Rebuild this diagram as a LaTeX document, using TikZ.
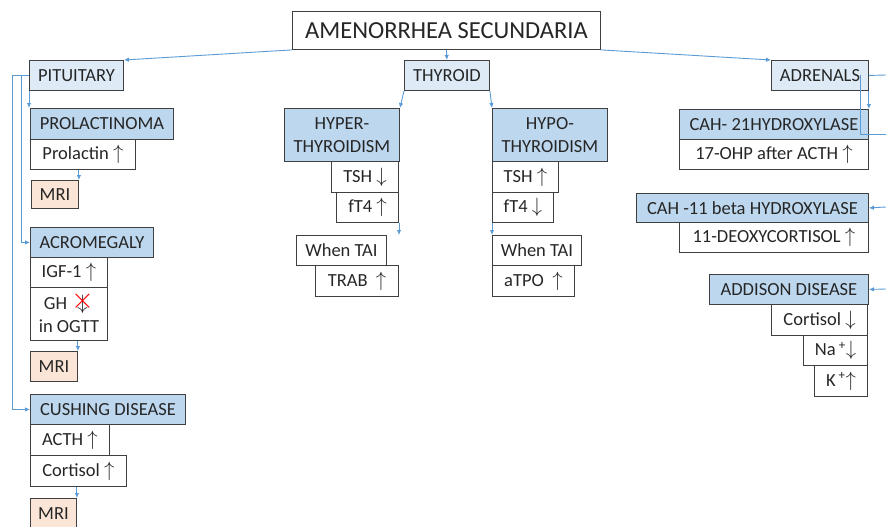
\documentclass[tikz,border=0pt]{standalone}
\usepackage{fontspec}
\setmainfont{Carlito}
\usetikzlibrary{arrows.meta}
\definecolor{paleblue}{HTML}{DEEBF7}
\definecolor{midblue}{HTML}{BDD7EE}
\definecolor{peach}{HTML}{FBE5D6}
\definecolor{linkblue}{HTML}{5B9BD5}
\definecolor{edgegray}{HTML}{404040}
\newcommand{\upar}{\scalebox{1.2}{$\uparrow$}}
\newcommand{\dnar}{\scalebox{1.2}{$\downarrow$}}
\begin{document}
\begin{tikzpicture}[x=1pt, y=-1pt,
  box/.style={draw=edgegray, line width=0.9pt, inner sep=2pt, text=black!85,
    font=\fontsize{18.5}{23}\selectfont, anchor=north west},
  sz/.style 2 args={minimum width=#1pt, minimum height=#2pt},
  organ/.style={box, fill=paleblue},
  disease/.style={box, fill=midblue},
  imaging/.style={box, fill=peach},
  link/.style={linkblue, line width=0.9pt, -{Latex[length=5pt,width=4.5pt]}},
  wire/.style={linkblue, line width=0.9pt}]
\useasboundingbox (0,0) rectangle (886,527);
\node[box, sz={308}{38}, font=\fontsize{24.5}{28}\selectfont] (title) at (292,11)
  {AMENORRHEA SECUNDARIA};
\node[organ, sz={94}{30}] (pit) at (29,60) {PITUITARY};
\node[organ, sz={85}{30}] (thy) at (404,60) {THYROID};
\node[organ, sz={97}{30}] (adr) at (771,60) {ADRENALS};
% pituitary
\node[disease, sz={143}{31}] (prl) at (30,108) {PROLACTINOMA};
\node[box, sz={105}{30}] (prlval) at (30,139) {Prolactin \upar};
\node[imaging, sz={47}{28}] (mria) at (31,180) {MRI};
\node[disease, sz={123}{30}] (acr) at (30,227) {ACROMEGALY};
\node[box, sz={77}{30}] (igf) at (30,257) {IGF-1 \upar};
\node[box, sz={77}{53}, align=center] (gh) at (30,287)
  {GH \ooalign{\hfil\dnar\hfil\cr\hfil\raisebox{1pt}{\color{red}\scalebox{1.7}{$\times$}}\hfil\cr}\\in OGTT};
\node[imaging, sz={47}{30}] (mrib) at (30,351) {MRI};
\node[disease, sz={155}{30}] (cus) at (30,394) {CUSHING DISEASE};
\node[box, sz={79}{31}] (acth) at (30,424) {ACTH \upar};
\node[box, sz={96}{31}] (corta) at (30,455) {Cortisol \upar};
\node[imaging, sz={46}{30}] (mric) at (30,498) {MRI};
% thyroid
\node[disease, sz={115}{53}, align=center] (hyper) at (284,108) {HYPER-\\THYROIDISM};
\node[box, sz={67}{31}, anchor=north east] (tsha) at (399,161) {TSH \dnar};
\node[box, sz={62}{30}, anchor=north east] (fta) at (399,192) {fT4 \upar};
\node[box, sz={90}{30}] (taia) at (296,235) {When TAI};
\node[box, sz={83}{31}, anchor=north east] (trab) at (399,265) {TRAB \ \upar};
\node[disease, sz={115}{53}, align=center] (hypo) at (492,108) {HYPO-\\THYROIDISM};
\node[box, sz={66}{31}] (tshb) at (492,161) {TSH \upar};
\node[box, sz={61}{30}] (ftb) at (492,192) {fT4 \dnar};
\node[box, sz={89}{30}] (taib) at (492,235) {When TAI};
\node[box, sz={82}{31}] (atpo) at (492,265) {aTPO \ \upar};
% adrenals
\node[disease, sz={189}{30}] (cah21) at (679,109) {CAH- 21HYDROXYLASE};
\node[box, sz={189}{30}] (ohp) at (679,139) {17-OHP after ACTH \upar};
\node[disease, sz={232}{29}] (cah11) at (636,193) {CAH -11 beta HYDROXYLASE};
\node[box, sz={189}{30}] (doc) at (679,222) {11-DEOXYCORTISOL \upar};
\node[disease, sz={159}{30}] (add) at (709,274) {ADDISON DISEASE};
\node[box, sz={96}{31}, anchor=north east] (cortb) at (868,304) {Cortisol \dnar};
\node[box, sz={64}{30}, anchor=north east] (na) at (868,335) {Na\,\textsuperscript{+}\dnar};
\node[box, sz={53}{31}, anchor=north east] (k) at (868,365) {K\,\textsuperscript{+}\upar};
\coordinate (adrout) at (886,75);
\coordinate (cahout) at (886,134);
\coordinate (cahin) at (886,207);
\coordinate (addin) at (886,289);
% connectors
\draw[link] (title.south west) -- (pit.north east);
\draw[link] (title.south) -- (thy.north);
\draw[link] (title.south east) -- (adr.north west);
\draw[link] (pit.south west) -- (pit.south west |- prl.north);
\draw[link] (mria.north east |- prlval.south) -- (mria.north east);
\draw[link] (pit.west) -- ++(-8,0) |- (acr.west);
\draw[link] (pit.west) -- ++(-17,0) |- (cus.west);
\draw[link] (mrib.north east |- gh.south) -- (mrib.north east);
\draw[link] (mric.north east |- corta.south) -- (mric.north east);
\draw[link] (thy.south west) -- (hyper.north east);
\draw[link] (thy.south east) -- (hypo.north west);
\draw[link] (fta.south east) -- (fta.south east |- taia.north);
\draw[link] (ftb.south west) -- (ftb.south west |- taib.north);
\draw[link] (adr.south east) -- (adr.south east |- cah21.north);
\draw[wire] (adr.east) -- (adrout);
\draw[wire] ([xshift=-8pt]adr.east) |- (cahout);
\draw[link] (cahin) -- (cah11.east);
\draw[link] (addin) -- (add.east);
\end{tikzpicture}
\end{document}
